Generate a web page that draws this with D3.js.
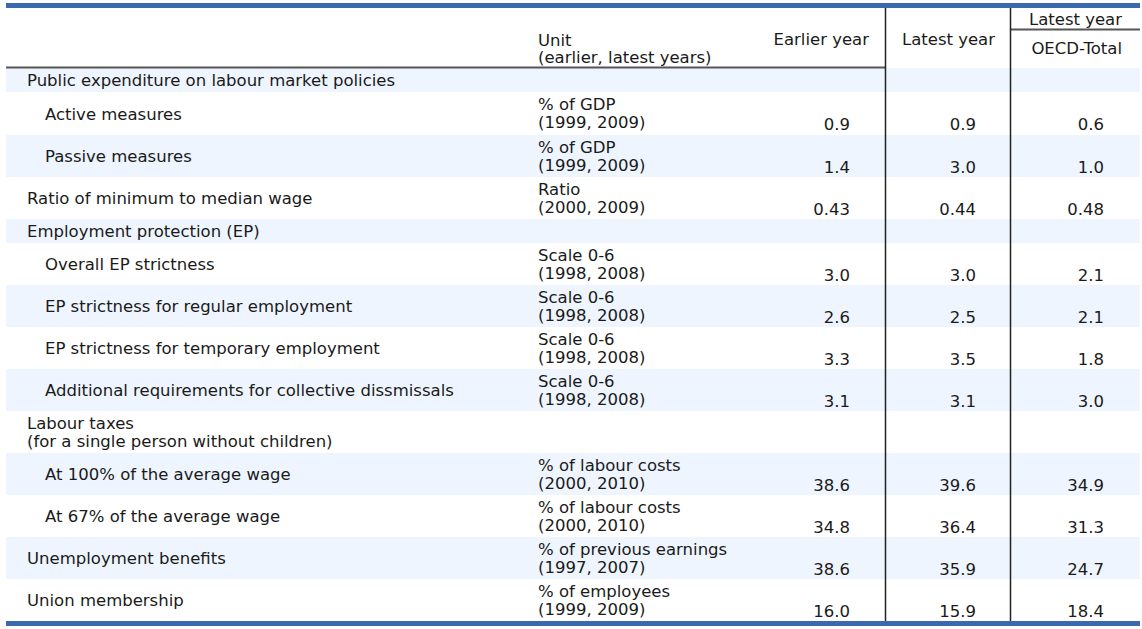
<!DOCTYPE html>
<html lang="en">
<head>
    <meta charset="UTF-8">
    <title>Labour market policies and institutions</title>
    <script src="https://d3js.org/d3.v7.min.js"></script>
    <style>
        body {
            margin: 0;
            background: white;
            font-family: "DejaVu Sans", Verdana, sans-serif;
        }
        .cell {
            font-size: 16.5px;
            fill: #1a1a1a;
        }
    </style>
</head>
<body>
    <svg id="tbl" width="1142" height="629"></svg>
    <script>
        // Table contents
        const labels = [
            ["Public expenditure on labour market policies"],
            ["Active measures"],
            ["Passive measures"],
            ["Ratio of minimum to median wage"],
            ["Employment protection (EP)"],
            ["Overall EP strictness"],
            ["EP strictness for regular employment"],
            ["EP strictness for temporary employment"],
            ["Additional requirements for collective dissmissals"],
            ["Labour taxes", "(for a single person without children)"],
            ["At 100% of the average wage"],
            ["At 67% of the average wage"],
            ["Unemployment benefits"],
            ["Union membership"]
        ];
        const indent = [0, 1, 1, 0, 0, 1, 1, 1, 1, 0, 1, 1, 0, 0];
        const sectionRow = [true, false, false, false, true, false, false, false, false, false, false, false, false, false];
        const units = [
            null,
            ["% of GDP", "(1999, 2009)"],
            ["% of GDP", "(1999, 2009)"],
            ["Ratio", "(2000, 2009)"],
            null,
            ["Scale 0-6", "(1998, 2008)"],
            ["Scale 0-6", "(1998, 2008)"],
            ["Scale 0-6", "(1998, 2008)"],
            ["Scale 0-6", "(1998, 2008)"],
            null,
            ["% of labour costs", "(2000, 2010)"],
            ["% of labour costs", "(2000, 2010)"],
            ["% of previous earnings", "(1997, 2007)"],
            ["% of employees", "(1999, 2009)"]
        ];
        const earlierYear = [null, 0.9, 1.4, 0.43, null, 3.0, 2.6, 3.3, 3.1, null, 38.6, 34.8, 38.6, 16.0];
        const latestYear  = [null, 0.9, 3.0, 0.44, null, 3.0, 2.5, 3.5, 3.1, null, 39.6, 36.4, 35.9, 15.9];
        const oecdTotal   = [null, 0.6, 1.0, 0.48, null, 2.1, 2.1, 1.8, 3.0, null, 34.9, 31.3, 24.7, 18.4];
        const decimals    = [1, 1, 1, 2, 1, 1, 1, 1, 1, 1, 1, 1, 1, 1];

        const svg = d3.select("#tbl");
        const left = 6, right = 1140;
        const headTop = 8, headBottom = 68;
        const blue = "#3c68ad", band = "#eef5fe";

        // row heights -> y positions
        const heights = labels.map((d, i) => sectionRow[i] ? 24 : 42);
        heights[1] = 43;
        const tops = [headBottom];
        heights.forEach((h, i) => tops.push(tops[i] + h));
        const bodyBottom = tops[tops.length - 1];

        // column edges
        const colX = { label: 27, sub: 45, unit: 538 };
        const valueRight = d3.scaleOrdinal()
            .domain(["earlier", "latest", "oecd"])
            .range([850, 976, 1104]);
        const colLines = [885.5, 1010.5];

        // striped row backgrounds
        svg.selectAll("rect.row")
            .data(labels)
            .enter()
            .append("rect")
            .attr("class", "row")
            .attr("x", left)
            .attr("y", (d, i) => tops[i])
            .attr("width", right - left)
            .attr("height", (d, i) => heights[i])
            .attr("fill", (d, i) => i % 2 === 0 ? band : "white");

        // row labels
        svg.selectAll("text.lbl")
            .data(labels)
            .enter()
            .append("text")
            .attr("class", "cell lbl")
            .attr("x", (d, i) => indent[i] ? colX.sub : colX.label)
            .attr("y", (d, i) => tops[i] + heights[i] / 2 + 6 - (d.length - 1) * 9)
            .each(function (d) {
                const t = d3.select(this);
                d.forEach((line, k) => {
                    t.append("tspan")
                        .attr("x", t.attr("x"))
                        .attr("dy", k === 0 ? 0 : 18)
                        .text(line);
                });
            });

        // units
        svg.selectAll("text.unit")
            .data(units.map((u, i) => ({ u, i })).filter(d => d.u))
            .enter()
            .append("text")
            .attr("class", "cell unit")
            .attr("x", colX.unit)
            .attr("y", d => tops[d.i] + 18)
            .each(function (d) {
                const t = d3.select(this);
                d.u.forEach((line, k) => {
                    t.append("tspan")
                        .attr("x", colX.unit)
                        .attr("dy", k === 0 ? 0 : 18)
                        .text(line);
                });
            });

        // numeric columns
        const series = [
            { key: "earlier", values: earlierYear },
            { key: "latest", values: latestYear },
            { key: "oecd", values: oecdTotal }
        ];
        series.forEach(s => {
            svg.selectAll("text.v-" + s.key)
                .data(s.values.map((v, i) => ({ v, i })).filter(d => d.v !== null))
                .enter()
                .append("text")
                .attr("class", "cell v-" + s.key)
                .attr("x", valueRight(s.key))
                .attr("y", d => tops[d.i] + 38)
                .attr("text-anchor", "end")
                .text(d => d3.format("." + decimals[d.i] + "f")(d.v));
        });

        // header texts
        const headers = [
            { text: "Unit", x: colX.unit, y: 46, anchor: "start" },
            { text: "(earlier, latest years)", x: colX.unit, y: 63, anchor: "start" },
            { text: "Earlier year", x: 869, y: 45, anchor: "end" },
            { text: "Latest year", x: 995, y: 45, anchor: "end" },
            { text: "Latest year", x: 1122, y: 25, anchor: "end" },
            { text: "OECD-Total", x: 1122, y: 54, anchor: "end" }
        ];
        svg.selectAll("text.hd")
            .data(headers)
            .enter()
            .append("text")
            .attr("class", "cell hd")
            .attr("x", d => d.x)
            .attr("y", d => d.y)
            .attr("text-anchor", d => d.anchor)
            .text(d => d.text);

        // rules
        svg.append("line")
            .attr("x1", left).attr("x2", colLines[0] - 0.5)
            .attr("y1", 67.5).attr("y2", 67.5)
            .attr("stroke", "#555").attr("stroke-width", 2);
        svg.append("line")
            .attr("x1", colLines[1]).attr("x2", right)
            .attr("y1", 29.5).attr("y2", 29.5)
            .attr("stroke", "#555").attr("stroke-width", 2);
        svg.selectAll("line.col")
            .data(colLines)
            .enter()
            .append("line")
            .attr("class", "col")
            .attr("x1", d => d).attr("x2", d => d)
            .attr("y1", headTop).attr("y2", bodyBottom)
            .attr("stroke", "#222").attr("stroke-width", 1.5);

        // thick blue borders top and bottom
        svg.append("rect")
            .attr("x", left).attr("y", 3)
            .attr("width", right - left).attr("height", 5)
            .attr("fill", blue);
        svg.append("rect")
            .attr("x", left).attr("y", bodyBottom)
            .attr("width", right - left).attr("height", 5)
            .attr("fill", blue);
    </script>
</body>
</html>
